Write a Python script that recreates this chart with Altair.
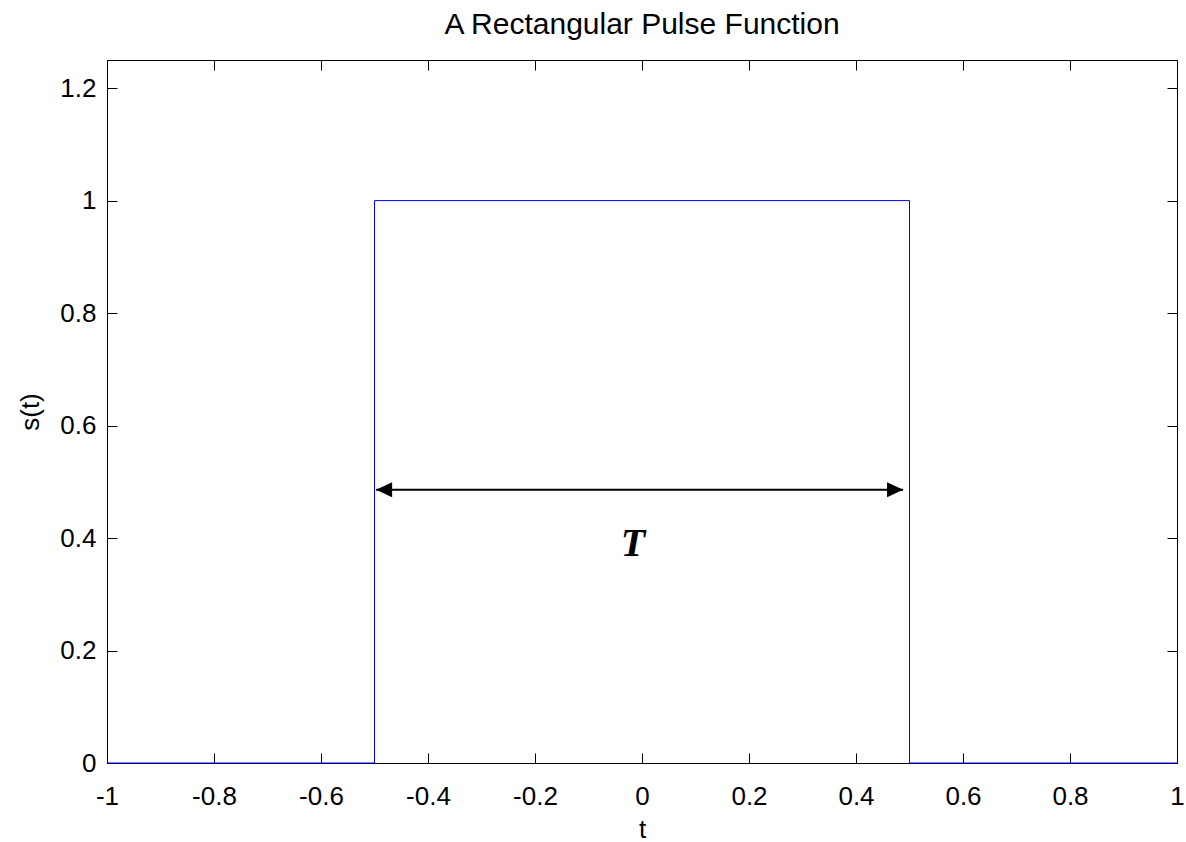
import altair as alt
import pandas as pd

# Pulse waveform (drawn in order)
pulse_t = [-1.0, -0.5, -0.5, 0.5, 0.5, 1.0]
pulse_s = [0.0, 0.0, 1.0, 1.0, 0.0, 0.0]

# Width annotation arrow
arrow_t = [-0.497, 0.488]
arrow_s = [0.486, 0.486]
label_t = [-0.017]
label_s = [0.368]
label_text = ["T"]

x_ticks = [-1, -0.8, -0.6, -0.4, -0.2, 0, 0.2, 0.4, 0.6, 0.8, 1]
y_ticks = [0, 0.2, 0.4, 0.6, 0.8, 1, 1.2]

pulse_df = pd.DataFrame({"t": pulse_t, "s": pulse_s, "order": list(range(len(pulse_t)))})
arrow_df = pd.DataFrame({"t": [arrow_t[0]], "t2": [arrow_t[1]], "s": [arrow_s[0]]})
head_l = pd.DataFrame({"t": [arrow_t[0]], "s": [arrow_s[0]]})
head_r = pd.DataFrame({"t": [arrow_t[1]], "s": [arrow_s[1]]})
label_df = pd.DataFrame({"t": label_t, "s": label_s, "txt": label_text})

FONT = "Liberation Sans"
xscale = alt.Scale(domain=[-1, 1], nice=False, zero=False)
yscale = alt.Scale(domain=[0, 1.25], nice=False, zero=False)

common_axis = dict(domain=False, grid=False, tickSize=10, tickColor="black", tickWidth=1,
                   labelFont=FONT, labelFontSize=26, labelColor="black",
                   titleFont=FONT, titleFontSize=26, titleColor="black", titleFontWeight="normal",
                   labelExpr="'' + datum.value")

x_bottom = alt.Axis(orient="bottom", values=x_ticks, offset=-10, labelPadding=20,
                    title="t", titlePadding=7, labelFlush=False, labelOverlap=False, **common_axis)
y_left = alt.Axis(orient="left", values=y_ticks, offset=-10, labelPadding=11,
                  title="s(t)", titlePadding=16, labelOverlap=False, **common_axis)
x_top = alt.Axis(orient="top", values=x_ticks, offset=-10, labels=False, title=None,
                 domain=False, grid=False, tickSize=10, tickColor="black", tickWidth=1)
y_right = alt.Axis(orient="right", values=y_ticks, offset=-10, labels=False, title=None,
                   domain=False, grid=False, tickSize=10, tickColor="black", tickWidth=1)

pulse = alt.Chart(pulse_df).mark_line(color="#0000FF", strokeWidth=1).encode(
    x=alt.X("t:Q", scale=xscale, axis=x_bottom),
    y=alt.Y("s:Q", scale=yscale, axis=y_left),
    order="order:Q",
)

mirror = alt.Chart(pulse_df).mark_point(opacity=0, size=1).encode(
    x=alt.X("t:Q", scale=xscale, axis=x_top),
    y=alt.Y("s:Q", scale=yscale, axis=y_right),
)

shaft = alt.Chart(arrow_df).mark_rule(color="black", strokeWidth=2).encode(
    x=alt.X("t:Q", scale=xscale, axis=None),
    x2="t2:Q",
    y=alt.Y("s:Q", scale=yscale, axis=None),
)

left_head = alt.Chart(head_l).mark_point(
    shape="M0,0L1,-0.47L1,0.47Z", filled=True, color="black", opacity=1, size=1024, strokeWidth=0
).encode(x=alt.X("t:Q", scale=xscale, axis=None), y=alt.Y("s:Q", scale=yscale, axis=None))

right_head = alt.Chart(head_r).mark_point(
    shape="M0,0L-1,-0.47L-1,0.47Z", filled=True, color="black", opacity=1, size=1024, strokeWidth=0
).encode(x=alt.X("t:Q", scale=xscale, axis=None), y=alt.Y("s:Q", scale=yscale, axis=None))

label = alt.Chart(label_df).mark_text(
    font="Liberation Serif", fontSize=40, fontWeight="bold", fontStyle="italic",
    align="center", baseline="alphabetic", color="black"
).encode(
    x=alt.X("t:Q", scale=xscale, axis=None),
    y=alt.Y("s:Q", scale=yscale, axis=None),
    text="txt:N",
)

chart = alt.layer(mirror, pulse, shaft, left_head, right_head, label).resolve_axis(
    x="independent", y="independent"
).properties(
    width=1070,
    height=703,
    title=alt.TitleParams("A Rectangular Pulse Function", font=FONT, fontSize=30,
                          fontWeight="normal", color="black", anchor="middle",
                          baseline="alphabetic", offset=-4),
    autosize=alt.AutoSizeParams(type="none"),
    padding={"left": 107, "top": 60, "right": 9, "bottom": 79},
    background="white",
).configure_view(stroke="black", strokeWidth=1)

chart.save("out.html", embed_options={"renderer": "svg", "actions": False})
